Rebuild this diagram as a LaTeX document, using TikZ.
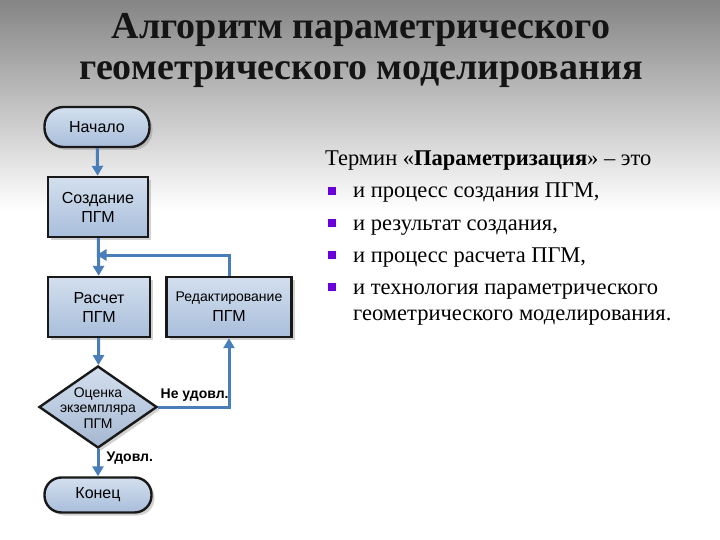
\documentclass[tikz,border=0pt]{standalone}
\usepackage{fontspec}
\setmainfont{Liberation Serif}
\newfontfamily\flowfont{Liberation Sans}
\usetikzlibrary{shapes.geometric,arrows.meta,shadows}
\definecolor{arrblue}{HTML}{4A7EBB}
\definecolor{boxtop}{HTML}{D3DFEE}
\definecolor{boxbot}{HTML}{A9BEDB}
\definecolor{bulletc}{HTML}{6A00D8}
\tikzset{
  flowbox/.style={rectangle, draw=black!90, line width=2.4pt, top color=boxtop, bottom color=boxbot,
    drop shadow={shadow xshift=3pt, shadow yshift=-3pt, opacity=0.35},
    align=center, font=\flowfont\fontsize{16}{19}\selectfont, inner sep=0pt},
  termbox/.style={flowbox},
  decbox/.style={diamond, draw=black!90, line width=2.4pt, top color=boxtop, bottom color=boxbot!90!gray,
    drop shadow={shadow xshift=3pt, shadow yshift=-3pt, opacity=0.35},
    inner sep=0pt},
  dectext/.style={align=center, font=\flowfont\fontsize{14}{15.5}\selectfont, inner sep=0pt},
  conn/.style={draw=arrblue, line width=3pt, -{Triangle[length=10pt,width=11pt]}},
  lbl/.style={font=\flowfont\bfseries\fontsize{14}{16}\selectfont, inner sep=0pt},
  bodytext/.style={font=\fontsize{22.5}{26}\selectfont, anchor=base west, inner sep=0pt},
  titletext/.style={font=\fontsize{38}{44}\selectfont\bfseries, text=black!92, inner sep=0pt},
  bul/.style={fill=bulletc, minimum size=8pt, inner sep=0pt}
}
\begin{document}
\begin{tikzpicture}[x=1pt,y=-1pt]
\useasboundingbox (0,0) rectangle (720,540);
% background
\shade[top color=black!48, bottom color=white] (0,0) rectangle (720,210);
\fill[white] (0,210) rectangle (720,540);
% title
\node[titletext] (t1) at (361,30) {Алгоритм параметрического};
\node[titletext] (t2) at (361,75) {геометрического моделирования};
% flowchart
\node[termbox, rounded corners=19pt, minimum width=105pt, minimum height=40pt] (start) at (97,127) {Начало};
\node[flowbox, minimum width=100pt, minimum height=60pt] (create) at (98,207) {Создание\\ПГМ};
\node[flowbox, minimum width=102pt, minimum height=60pt] (calc) at (99,307) {Расчет\\ПГМ};
\node[flowbox, minimum width=125pt, minimum height=60pt, font=\flowfont\fontsize{14}{20}\selectfont] (edit) at (229,307) {Редактирование\\{\fontsize{16}{19}\selectfont ПГМ}};
\node[decbox, minimum width=118pt, minimum height=82pt] (dec) at (98,407) {};
\node[dectext] (dect) at (98,408) {Оценка\\экземпляра\\ПГМ};
\node[termbox, rounded corners=17pt, minimum width=107pt, minimum height=35pt] (end) at (98,495) {Конец};
\coordinate (join) at (98,255);
\coordinate (up) at (229,255);
\coordinate (corner) at (229,407);
\draw[conn] (start) -- (create);
\draw[conn] (create) -- (calc);
\draw[conn] (calc) -- (dec);
\draw[conn] (dec) -- node[lbl, anchor=west, pos=0.32, xshift=7pt] {Удовл.} (end);
\draw[conn] (dec.east) -- node[lbl, anchor=south west, pos=0, xshift=1pt, yshift=4pt] {Не удовл.} (corner) -- (edit.south);
\draw[conn, shorten >=-1.5pt] (edit.north) -- (up) -- (join);
% text
\node[bodytext] (h) at (325,166) {Термин «\textbf{Параметризация}» – это};
\node[bul] (b1) at (332,191) {};
\node[bul] (b2) at (332,223) {};
\node[bul] (b3) at (332,255) {};
\node[bul] (b4) at (332,287) {};
\node[bodytext] (l1) at (353,198) {и процесс создания ПГМ,};
\node[bodytext] (l2) at (353,230) {и результат создания,};
\node[bodytext] (l3) at (353,262) {и процесс расчета ПГМ,};
\node[bodytext] (l4) at (353,294) {и технология параметрического};
\node[bodytext] (l5) at (353,320) {геометрического моделирования.};
\end{tikzpicture}
\end{document}
